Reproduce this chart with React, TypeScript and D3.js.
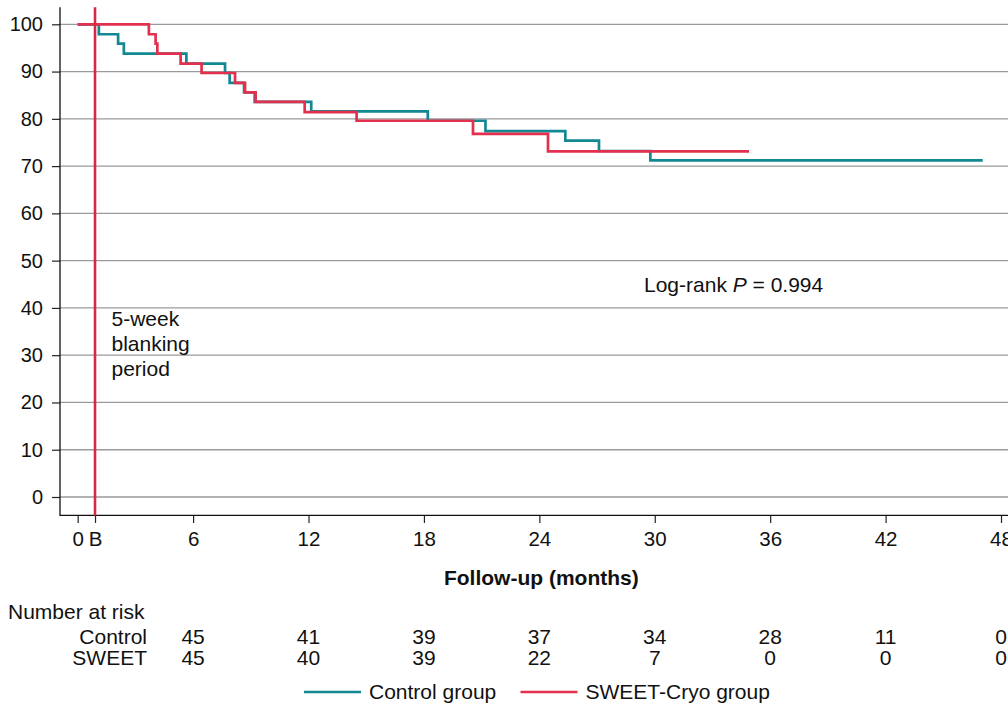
import { useEffect, useRef } from 'react';
import * as d3 from 'd3';

// Kaplan-Meier steps (months, % free of recurrence)
const controlTimes = [0, 1.1, 2.1, 2.4, 5.65, 7.66, 7.9, 8.65, 9.2, 12.14, 18.2, 21.2, 25.35, 27.1, 29.77, 47.05];
const controlSurv = [100, 97.9, 95.9, 93.8, 91.7, 89.7, 87.6, 85.6, 83.6, 81.6, 79.6, 77.4, 75.4, 73.2, 71.2, 71.2];
const sweetTimes = [0, 3.7, 4.05, 4.14, 5.35, 6.44, 8.18, 8.7, 9.25, 11.8, 14.5, 20.55, 24.45, 34.9];
const sweetSurv = [100, 97.9, 95.9, 93.8, 91.7, 89.7, 87.6, 85.6, 83.6, 81.4, 79.6, 76.8, 73.1, 73.1];

const blankingMonth = 0.9;
const xTicks = [0, 6, 12, 18, 24, 30, 36, 42, 48];
const yTicks = [0, 10, 20, 30, 40, 50, 60, 70, 80, 90, 100];

const riskMonths = [6, 12, 18, 24, 30, 36, 42, 48];
const riskControl = [45, 41, 39, 37, 34, 28, 11, 0];
const riskSweet = [45, 40, 39, 22, 7, 0, 0, 0];

const TEAL = '#128893';
const RED = '#E2304E';
const FONT = '"Liberation Sans", Arial, Helvetica, sans-serif';

const App = () => {
	const svgRef = useRef<SVGSVGElement>(null);
	const width = 1008;
	const height = 706;

	useEffect(() => {
		const svg = d3.select(svgRef.current);
		svg.selectAll('*').remove();
		svg.style('font-family', FONT);

		const x = d3.scaleLinear().domain([0, 48]).range([77.7, 1001]);
		const y = d3.scaleLinear().domain([0, 100]).range([497, 24.3]);
		const axisLeft = 60;
		const axisBottom = y(-3.9);
		const axisTop = y(103.6);

		// gridlines
		svg
			.append('g')
			.selectAll('line')
			.data(yTicks)
			.join('line')
			.attr('x1', axisLeft)
			.attr('x2', width)
			.attr('y1', d => y(d))
			.attr('y2', d => y(d))
			.attr('stroke', '#9a9a9a')
			.attr('stroke-width', 1.3);

		// y axis
		const gy = svg
			.append('g')
			.attr('transform', `translate(${axisLeft},0)`)
			.call(d3.axisLeft(y).tickValues(yTicks).tickSize(8).tickPadding(9));
		gy.select('.domain').remove();
		gy.selectAll('.tick line').attr('stroke', '#222').attr('stroke-width', 1.2);
		gy.selectAll('.tick text').style('font-size', '20px').style('font-family', FONT).attr('fill', '#111');

		// x axis
		const gx = svg
			.append('g')
			.attr('transform', `translate(0,${axisBottom})`)
			.call(
				d3
					.axisBottom(x)
					.tickValues([...xTicks, blankingMonth])
					.tickFormat(d => (d === blankingMonth ? 'B' : String(d)))
					.tickSize(7.5)
					.tickPadding(9),
			);
		gx.select('.domain').remove();
		gx.selectAll('.tick line').attr('stroke', '#222').attr('stroke-width', 1.2);
		gx.selectAll('.tick text').style('font-size', '20.5px').style('font-family', FONT).attr('fill', '#111');

		// axis lines
		svg
			.append('path')
			.attr('d', `M${axisLeft},${axisTop}V${axisBottom}H${width}`)
			.attr('fill', 'none')
			.attr('stroke', '#111')
			.attr('stroke-width', 1.3);

		// curves
		const stepLine = d3.line().curve(d3.curveStepAfter);
		const drawCurve = (times: number[], surv: number[], color: string) => {
			const pts = times.map((t, i) => [x(t), y(surv[i])] as [number, number]);
			svg
				.append('path')
				.attr('d', stepLine(pts))
				.attr('fill', 'none')
				.attr('stroke', color)
				.attr('stroke-width', 2.7);
		};
		drawCurve(controlTimes, controlSurv, TEAL);
		drawCurve(sweetTimes, sweetSurv, RED);

		// blanking period line
		svg
			.append('line')
			.attr('x1', x(blankingMonth))
			.attr('x2', x(blankingMonth))
			.attr('y1', axisTop)
			.attr('y2', axisBottom)
			.attr('stroke', '#D42A48')
			.attr('stroke-width', 2.6);

		const blank = svg.append('text').attr('x', 111.5).attr('y', 325.5).style('font-size', '21px').attr('fill', '#111');
		['5-week', 'blanking', 'period'].forEach((s, i) => {
			blank.append('tspan').attr('x', 111.5).attr('dy', i === 0 ? 0 : 25).text(s);
		});

		const lr = svg.append('text').attr('x', 644).attr('y', 292).style('font-size', '21px').attr('fill', '#111');
		lr.append('tspan').text('Log-rank ');
		lr.append('tspan').style('font-style', 'italic').text('P');
		lr.append('tspan').text(' = 0.994');

		svg
			.append('text')
			.attr('x', x(24) + 2)
			.attr('y', 585)
			.attr('text-anchor', 'middle')
			.style('font-size', '21px')
			.style('font-weight', 'bold')
			.attr('fill', '#111')
			.text('Follow-up (months)');

		// number at risk table
		svg.append('text').attr('x', 8).attr('y', 619).style('font-size', '21px').attr('fill', '#111').text('Number at risk');
		const rows: [string, number[], number][] = [
			['Control', riskControl, 644],
			['SWEET', riskSweet, 665],
		];
		rows.forEach(([name, vals, yy]) => {
			svg.append('text').attr('x', 147).attr('y', yy).attr('text-anchor', 'end').style('font-size', '21px').attr('fill', '#111').text(name);
			svg
				.append('g')
				.selectAll('text')
				.data(vals)
				.join('text')
				.attr('x', (d, i) => x(riskMonths[i]))
				.attr('y', yy)
				.attr('text-anchor', 'middle')
				.style('font-size', '21px')
				.attr('fill', '#111')
				.text(d => d);
		});

		// legend
		const legend = [
			{ label: 'Control group', color: TEAL, x0: 304 },
			{ label: 'SWEET-Cryo group', color: RED, x0: 520.5 },
		];
		legend.forEach(l => {
			svg.append('line').attr('x1', l.x0).attr('x2', l.x0 + 57).attr('y1', 692).attr('y2', 692).attr('stroke', l.color).attr('stroke-width', 2.7);
			svg.append('text').attr('x', l.x0 + 65).attr('y', 699).style('font-size', '21px').attr('fill', '#111').text(l.label);
		});
	}, []);

	return <svg ref={svgRef} width={width} height={height} style={{ position: 'absolute', left: 0, top: 0, background: '#fff' }}></svg>;
};

export default App;
